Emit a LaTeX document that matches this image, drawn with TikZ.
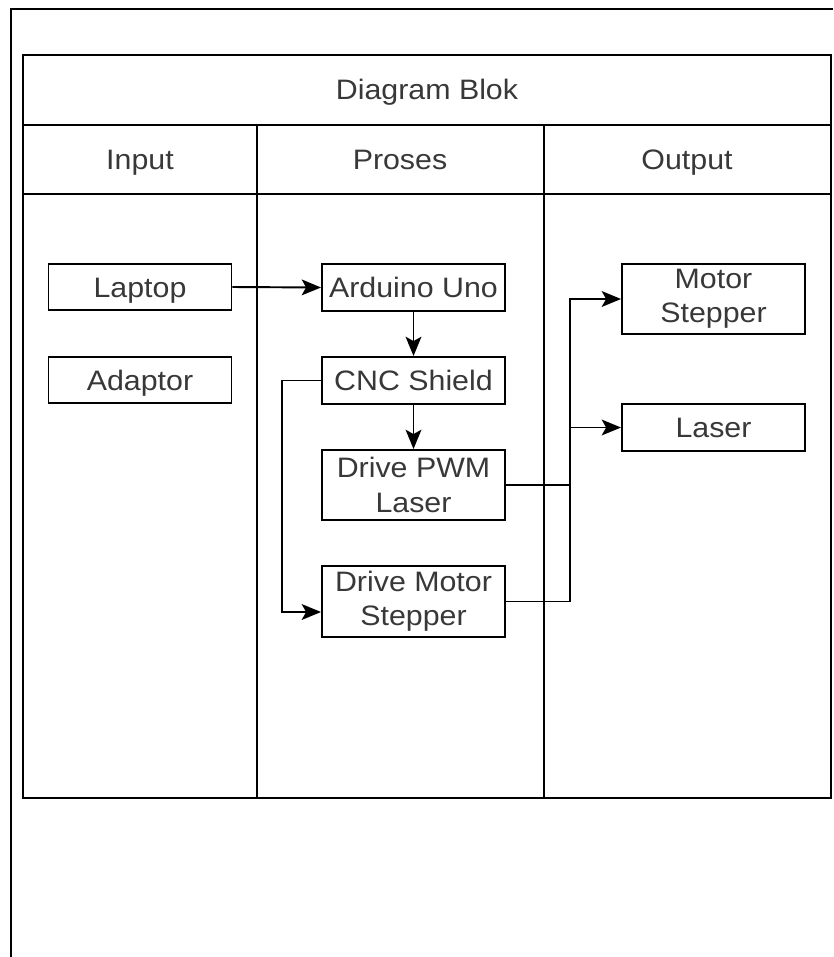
\documentclass[tikz,border=0pt]{standalone}
\usepackage{fontspec}
\setmainfont[FakeStretch=1.08]{Liberation Sans}
\usetikzlibrary{arrows.meta,calc}
\begin{document}
\begin{tikzpicture}[x=0.02cm,y=-0.02cm,
  line width=1.1pt,
  lbl/.style={text=black!78,font=\fontsize{16}{19.5}\selectfont},
  one/.style={text height=11.5pt,text depth=0pt},
  blk/.style={draw,line width=1.1pt,lbl,inner sep=0pt,align=center,minimum width=183*0.02cm},
  conn/.style={draw,line width=1.1pt},
  arr/.style={conn,-{Stealth[length=11pt,width=9pt,inset=2.5pt]}}]
\useasboundingbox (0,0) rectangle (833,957);
% outer frame (cropped)
\draw[line width=1.4pt] (11,957) -- (11,9) -- (833,9);
% table
\draw (23,55) rectangle (831,798);
\draw (23,125) -- (831,125);
\draw (23,194) -- (831,194);
\draw (257,125) -- (257,798);
\draw (544,125) -- (544,798);
\node[lbl,one] (title) at (427,89) {Diagram Blok};
\node[lbl,one] (hin) at (140,159) {Input};
\node[lbl,one] (hpr) at (400,159) {Proses};
\node[lbl,one] (hout) at (687,159) {Output};
% blocks
\node[blk,one,minimum height=46*0.02cm] (laptop) at (140,287) {Laptop};
\node[blk,one,minimum height=46*0.02cm] (adaptor) at (140,380) {Adaptor};
\node[blk,one,minimum height=47*0.02cm] (arduino) at (413.5,287.5) {Arduino Uno};
\node[blk,one,minimum height=47*0.02cm] (cnc) at (413.5,380.5) {CNC Shield};
\node[blk,minimum height=70*0.02cm] (pwm) at (413.5,485) {Drive PWM\\Laser};
\node[blk,minimum height=71*0.02cm] (dms) at (413.5,601.5) {Drive Motor\\Stepper};
\node[blk,minimum height=70*0.02cm] (mst) at (713.5,299) {Motor\\Stepper};
\node[blk,one,minimum height=47*0.02cm] (laser) at (713.5,427.5) {Laser};
% connectors
\coordinate (bus) at (570,0);
\path[arr] (laptop.east) -- (arduino.west);
\path[arr] (arduino.south) -- (cnc.north);
\path[arr] (cnc.south) -- (pwm.north);
\path[arr] (cnc.west) -| ($(dms.west)+(-39,10.5)$) -- ($(dms.west)+(0,10.5)$);
\path[arr] (dms.east) -| (bus |- mst.west) -- (mst.west);
\path[conn] (pwm.east) -- (pwm.east -| bus);
\path[arr] (laser.west -| bus) -- (laser.west);
\end{tikzpicture}
\end{document}
